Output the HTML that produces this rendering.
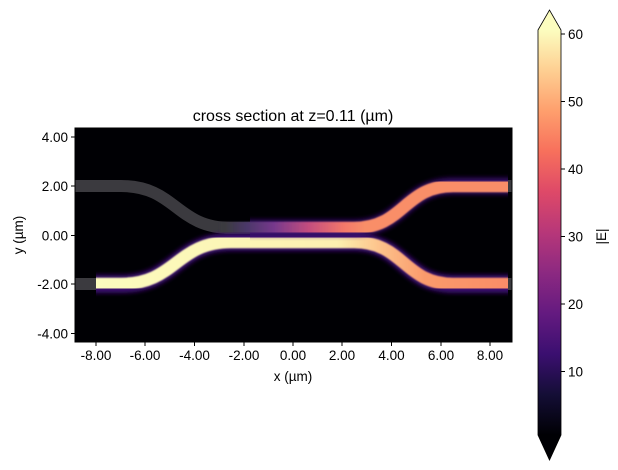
<!DOCTYPE html>
<html><head><meta charset="utf-8"><style>
body{margin:0;background:#fff;}
svg{display:block;font-family:"Liberation Sans","DejaVu Sans",sans-serif;}
</style></head><body>
<svg width="618" height="470" viewBox="0 0 618 470" xmlns="http://www.w3.org/2000/svg">
<defs>
<clipPath id="ax"><rect x="75" y="128" width="437" height="214"/></clipPath>
<clipPath id="fld"><rect x="96" y="128" width="412" height="214"/></clipPath>
<clipPath id="fldTop"><rect x="250" y="128" width="258" height="214"/></clipPath>
<filter id="blur" x="-10%" y="-50%" width="120%" height="200%"><feGaussianBlur stdDeviation="2.2"/></filter>
<filter id="blur2"><feGaussianBlur stdDeviation="0.8"/></filter>
<linearGradient id="gBot" gradientUnits="userSpaceOnUse" x1="75" y1="0" x2="512" y2="0">
<stop offset="0" stop-color="#fcfdbf"/><stop offset="0.6" stop-color="#fcf0b0"/>
<stop offset="0.7" stop-color="#fdc18a"/><stop offset="0.8" stop-color="#fa9a6c"/><stop offset="1" stop-color="#f98c66"/>
</linearGradient>
<linearGradient id="gTop" gradientUnits="userSpaceOnUse" x1="225" y1="0" x2="365" y2="0">
<stop offset="0" stop-color="#3b3a3f"/><stop offset="0.15" stop-color="#4a3868"/>
<stop offset="0.35" stop-color="#76398c"/><stop offset="0.6" stop-color="#c44d7e"/>
<stop offset="0.85" stop-color="#f3786a"/><stop offset="1" stop-color="#f98e68"/>
</linearGradient>
<linearGradient id="cb" x1="0" y1="1" x2="0" y2="0">
<stop offset="0" stop-color="#000004"/><stop offset="0.1" stop-color="#140e36"/><stop offset="0.2" stop-color="#3b0f70"/>
<stop offset="0.3" stop-color="#641a80"/><stop offset="0.4" stop-color="#8c2981"/><stop offset="0.5" stop-color="#b73779"/>
<stop offset="0.6" stop-color="#de4968"/><stop offset="0.7" stop-color="#f7705c"/><stop offset="0.8" stop-color="#fe9f6d"/>
<stop offset="0.9" stop-color="#fecf92"/><stop offset="1" stop-color="#fcfdbf"/>
</linearGradient>
</defs>
<text x="293" y="121" font-size="16" text-anchor="middle">cross section at z=0.11 (µm)</text>
<rect x="75" y="128" width="437" height="214" fill="#000004"/>
<g clip-path="url(#ax)" fill="none">
<path d="M60,186 H121 C176,186 176,228 231,228 H354 C404,228 404,186 453,186 H520" stroke="#3b3a3f" stroke-width="12"/>
<path d="M60,284 H121 C176,284 176,242 231,242 H354 C404,242 404,284 453,284 H520" stroke="#3b3a3f" stroke-width="12"/>
<g clip-path="url(#fld)">
<path d="M60,284 H121 C176,284 176,242 231,242 H354 C404,242 404,284 453,284 H520" stroke="#3b0f70" stroke-width="18" filter="url(#blur)"/>
<path d="M60,284 H121 C176,284 176,242 231,242 H354 C404,242 404,284 453,284 H520" stroke="url(#gBot)" stroke-width="12.5" filter="url(#blur2)"/>
<g clip-path="url(#fldTop)">
<path d="M60,186 H121 C176,186 176,228 231,228 H354 C404,228 404,186 453,186 H520" stroke="#3b0f70" stroke-width="17" filter="url(#blur)" opacity="0.8"/>
</g>
<path d="M220,228 H354 C404,228 404,186 453,186 H520" stroke="url(#gTop)" stroke-width="12.5" filter="url(#blur2)"/>
</g>
</g>
<rect x="75" y="128" width="437" height="214" fill="none" stroke="#000" stroke-width="1"/>
<g stroke="#000" stroke-width="1">
<line x1="71" x2="75" y1="137" y2="137"/><line x1="71" x2="75" y1="186" y2="186"/><line x1="71" x2="75" y1="235.5" y2="235.5"/><line x1="71" x2="75" y1="284" y2="284"/><line x1="71" x2="75" y1="333.5" y2="333.5"/>
<line y1="342" y2="346" x1="96" x2="96"/><line y1="342" y2="346" x1="145" x2="145"/><line y1="342" y2="346" x1="194.5" x2="194.5"/><line y1="342" y2="346" x1="244" x2="244"/><line y1="342" y2="346" x1="293" x2="293"/><line y1="342" y2="346" x1="342" x2="342"/><line y1="342" y2="346" x1="391.5" x2="391.5"/><line y1="342" y2="346" x1="441" x2="441"/><line y1="342" y2="346" x1="490" x2="490"/>
</g>
<g font-size="13.5" text-anchor="end">
<text x="68" y="142">4.00</text><text x="68" y="191">2.00</text><text x="68" y="240.5">0.00</text><text x="68" y="289">-2.00</text><text x="68" y="338.5">-4.00</text>
</g>
<g font-size="13.5" text-anchor="middle">
<text x="96" y="360">-8.00</text><text x="145" y="360">-6.00</text><text x="194.5" y="360">-4.00</text><text x="244" y="360">-2.00</text><text x="293" y="360">0.00</text><text x="342" y="360">2.00</text><text x="391.5" y="360">4.00</text><text x="441" y="360">6.00</text><text x="490" y="360">8.00</text>
<text x="293" y="381">x (µm)</text>
<text transform="translate(23,235) rotate(-90)">y (µm)</text>
</g>
<rect x="538" y="30" width="23" height="405" fill="url(#cb)"/>
<polygon points="538,30 549.5,10 561,30" fill="#fcfdbf"/>
<polygon points="538,435 549.5,460 561,435" fill="#000004"/>
<polygon points="538,30 549.5,10 561,30 561,435 549.5,460 538,435" fill="none" stroke="#000" stroke-width="0.8"/>
<g stroke="#000" stroke-width="1">
<line x1="561" x2="565" y1="34" y2="34"/><line x1="561" x2="565" y1="101.5" y2="101.5"/><line x1="561" x2="565" y1="169" y2="169"/><line x1="561" x2="565" y1="236.5" y2="236.5"/><line x1="561" x2="565" y1="304" y2="304"/><line x1="561" x2="565" y1="371.5" y2="371.5"/>
</g>
<g font-size="13.5">
<text x="568" y="39">60</text><text x="568" y="106.5">50</text><text x="568" y="174">40</text><text x="568" y="241.5">30</text><text x="568" y="309">20</text><text x="568" y="376.5">10</text>
<text transform="translate(606,236.5) rotate(-90)" text-anchor="middle">|E|</text>
</g>
</svg>
</body></html>
